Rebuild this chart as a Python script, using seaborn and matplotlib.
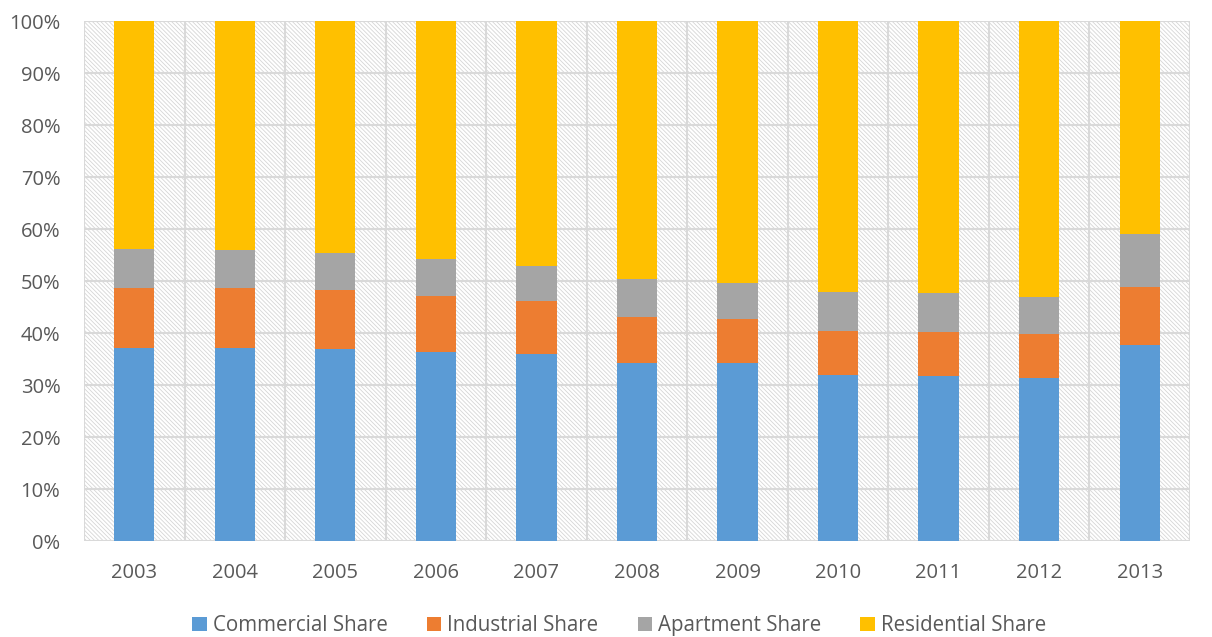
import matplotlib
matplotlib.use("Agg")
import matplotlib.pyplot as plt
from matplotlib.patches import Rectangle
from matplotlib.ticker import PercentFormatter
import numpy as np
import pandas as pd
import seaborn as sns

years = ["2003", "2004", "2005", "2006", "2007", "2008", "2009", "2010", "2011", "2012", "2013"]
commercial = [37.2, 37.2, 37.0, 36.4, 35.9, 34.2, 34.2, 32.0, 31.8, 31.3, 37.6]
industrial = [11.5, 11.5, 11.2, 10.7, 10.2, 8.9, 8.5, 8.4, 8.3, 8.6, 11.2]
apartment = [7.4, 7.3, 7.2, 7.1, 6.7, 7.2, 7.0, 7.4, 7.5, 7.0, 10.2]
residential = [43.9, 44.0, 44.6, 45.8, 47.2, 49.7, 50.3, 52.2, 52.4, 53.1, 41.0]

series = ["Commercial Share", "Industrial Share", "Apartment Share", "Residential Share"]
colors = ["#5B9BD5", "#ED7D31", "#A5A5A5", "#FFC000"]

df = pd.DataFrame({
    "year": years,
    "Commercial Share": commercial,
    "Industrial Share": industrial,
    "Apartment Share": apartment,
    "Residential Share": residential,
})
# cumulative tops of each stacked segment
cum = df[series].cumsum(axis=1)
cum["year"] = df["year"]

sns.set_theme(style="white")
plt.rcParams["font.family"] = ["Open Sans", "DejaVu Sans"]
plt.rcParams["hatch.linewidth"] = 0.6

fig = plt.figure(figsize=(12.12, 6.37), dpi=100)
ax = fig.add_axes([0.0693, 0.1507, 0.9125, 0.8163])

text_color = "#595959"
grid_color = "#D9D9D9"

# finely hatched plot-area background
ax.set_facecolor("white")
bg = Rectangle((0, 0), 1, 1, transform=ax.transAxes, facecolor="white",
               edgecolor="#D6D6D6", hatch="\\" * 8, linewidth=0, zorder=0)
ax.add_patch(bg)

# draw stacked bars from the top segment down so each lower one overlays
for name, color in zip(reversed(series), reversed(colors)):
    sns.barplot(data=cum, x="year", y=name, color=color, width=0.4,
                saturation=1, ax=ax, zorder=3, linewidth=0, edgecolor="none")

ax.set_xlim(-0.5, len(years) - 0.5)
ax.set_ylim(0, 100)
ax.set_yticks(np.arange(0, 101, 10))
ax.yaxis.set_major_formatter(PercentFormatter(decimals=0))

# horizontal gridlines at ticks, vertical lines between categories
for y in np.arange(0, 101, 10):
    ax.axhline(y, color=grid_color, lw=1.5, zorder=1)
for x in np.arange(-0.5, len(years), 1.0):
    ax.axvline(x, color=grid_color, lw=1.5, zorder=1)

for s in ax.spines.values():
    s.set_visible(False)

ax.set_xlabel("")
ax.set_ylabel("")
ax.tick_params(axis="both", length=0, labelsize=14.5, colors=text_color)
ax.tick_params(axis="x", pad=16)
ax.tick_params(axis="y", pad=17)

handles = [Rectangle((0, 0), 1, 1, facecolor=c, edgecolor="none") for c in colors]
fig.legend(handles, series, loc="center", bbox_to_anchor=(0.511, 0.018),
           ncol=4, frameon=False, fontsize=14.8, handlelength=0.7,
           handleheight=0.7, handletextpad=0.3, columnspacing=1.9,
           labelcolor=text_color)

fig.savefig("out.png", dpi=100)
